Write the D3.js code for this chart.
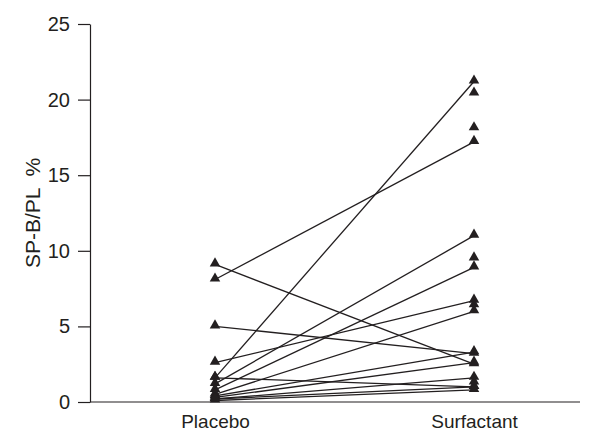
<!DOCTYPE html>
<html>
<head>
<meta charset="utf-8">
<script src="https://cdn.jsdelivr.net/npm/d3@7"></script>
<style>
  body { margin: 0; background: #fff; }
  text { font-family: "Liberation Sans", Arial, sans-serif; fill: #231f20; }
</style>
</head>
<body>
<div id="chart"></div>
<script>
const groups = ["Placebo", "Surfactant"];
const yTicks = [0, 5, 10, 15, 20, 25];
// paired values: placebo -> surfactant
const placebo    = [9.1, 8.1, 5.0, 2.6, 1.6, 1.6, 1.2, 0.8, 0.5, 0.4, 0.3, 0.2, 0.1, 0.2];
const surfactant = [2.5, 17.2, 3.2, 6.7, 1.0, 21.2, 11.0, 8.9, 6.0, 3.3, 2.6, 1.6, 0.8, 1.0];
// surfactant points with no placebo partner
const surfactantOnly = [20.4, 18.1, 9.5, 6.4, 1.3];

const W = 592, H = 437, margin = {top: 24, right: 12, bottom: 35, left: 90},
    width = W - margin.left - margin.right,
    height = H - margin.top - margin.bottom;

const svg = d3.select("#chart").append("svg")
    .attr("width", W).attr("height", H)
    .append("g")
    .attr("transform", "translate(" + margin.left + "," + margin.top + ")");

const x = d3.scalePoint().domain(groups).range([125, 384]);
const y = d3.scaleLinear().domain([0, 25]).range([height, 0]);

// y axis
const yAxis = svg.append("g")
    .call(d3.axisLeft(y).tickValues(yTicks).tickSize(12).tickPadding(8).tickSizeOuter(0));
yAxis.select(".domain").attr("stroke", "#231f20").attr("stroke-width", 1.2);
yAxis.selectAll(".tick line").attr("stroke", "#231f20").attr("stroke-width", 1.2);
yAxis.selectAll("text").style("font-size", "20px").attr("fill", "#231f20");

// x axis
const xAxis = svg.append("g")
    .attr("transform", `translate(0, ${height})`)
    .call(d3.axisBottom(x).tickSize(0).tickPadding(13));
xAxis.select(".domain").attr("d", `M0,0H${width}`).attr("stroke", "#231f20").attr("stroke-width", 1.2);
xAxis.selectAll("text").style("font-size", "19px").attr("fill", "#231f20");

svg.append("text")
    .attr("transform", `translate(-50, ${y(12.5)}) rotate(-90)`)
    .attr("text-anchor", "middle")
    .style("font-size", "21px")
    .style("white-space", "pre")
    .text("SP-B/PL  %");

const pairs = placebo.map((p, i) => ({a: p, b: surfactant[i]}));

svg.selectAll(".pair")
    .data(pairs)
    .join("line")
    .attr("x1", x("Placebo")).attr("y1", d => y(d.a))
    .attr("x2", x("Surfactant")).attr("y2", d => y(d.b))
    .attr("stroke", "#231f20").attr("stroke-width", 1.3);

const pts = [];
pairs.forEach(d => { pts.push({g: "Placebo", v: d.a}); pts.push({g: "Surfactant", v: d.b}); });
surfactantOnly.forEach(v => pts.push({g: "Surfactant", v}));

const tri = d3.symbol().type(d3.symbolTriangle).size(48);
svg.selectAll(".pt")
    .data(pts)
    .join("path")
    .attr("d", tri)
    .attr("transform", d => `translate(${x(d.g)}, ${y(d.v) - 1})`)
    .attr("fill", "#231f20");
</script>
</body>
</html>
